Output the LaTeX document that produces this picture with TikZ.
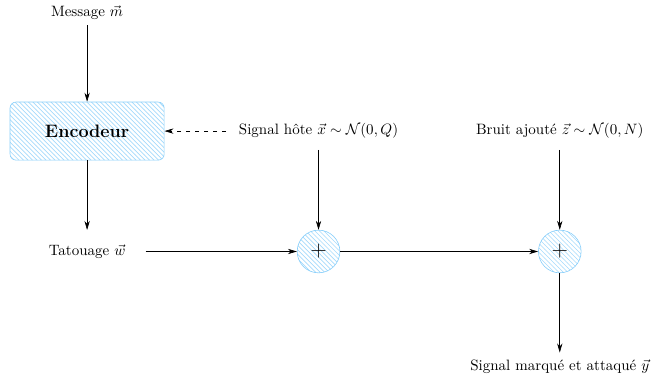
\documentclass[tikz,border=0pt]{standalone}
\usepackage{amsmath}
\usepackage{amssymb}
\usepackage{tikz}
\usetikzlibrary{positioning}
\usetikzlibrary{patterns}
\usetikzlibrary{arrows.meta}
\definecolor{hatchblue}{RGB}{135,206,250}

\begin{document}
\begin{tikzpicture}[
encbox/.style={
  draw=hatchblue,
  rounded corners=4pt,
  pattern=north west lines,
  pattern color=hatchblue!75,
  minimum width=3.61cm,
  minimum height=1.36cm,
  font=\large\bfseries
  },
sumnode/.style={
  draw=hatchblue,
  circle,
  pattern=north west lines,
  pattern color=hatchblue!75,
  minimum size=1.0cm,
  inner sep=0pt,
  font=\Large
  },
lbl/.style={inner sep=1pt},
every path/.append style={-{Stealth[length=6pt,width=3.5pt]}}
]
\useasboundingbox (0,0) rectangle (15.27,9.0);
\node[lbl] (msg) at (2.04,8.71) {Message $\vec{m}$};
\node[encbox] (enc) at (2.04,5.93) {Encodeur};
\node[lbl] (host) at (7.46,5.93) {Signal h\^ote $\vec{x}\sim\mathcal{N}(0,Q)$};
\node[lbl] (noise) at (13.11,5.93) {Bruit ajout\'e $\vec{z}\sim\mathcal{N}(0,N)$};
\node[lbl] (wm) at (2.04,3.11) {Tatouage $\vec{w}$};
\node[sumnode] (sum1) at (7.46,3.11) {$+$};
\node[sumnode] (sum2) at (13.11,3.11) {$+$};
\node[lbl] (out) at (13.11,0.42) {Signal marqu\'e et attaqu\'e $\vec{y}$};
% connectors
\draw[shorten <=0.1cm] (msg) -- (enc);
\draw[dashed, shorten <=0.26cm] (host) -- (enc);
\draw (enc) -- ([yshift=0.3cm]wm.north);
\draw[shorten <=0.43cm] (wm) -- (sum1);
\draw[shorten <=0.22cm] (host) -- (sum1);
\draw (sum1) -- (sum2);
\draw[shorten <=0.22cm] (noise) -- (sum2);
\draw (sum2) -- ([yshift=0.12cm]out.north);
\end{tikzpicture}
\end{document}
